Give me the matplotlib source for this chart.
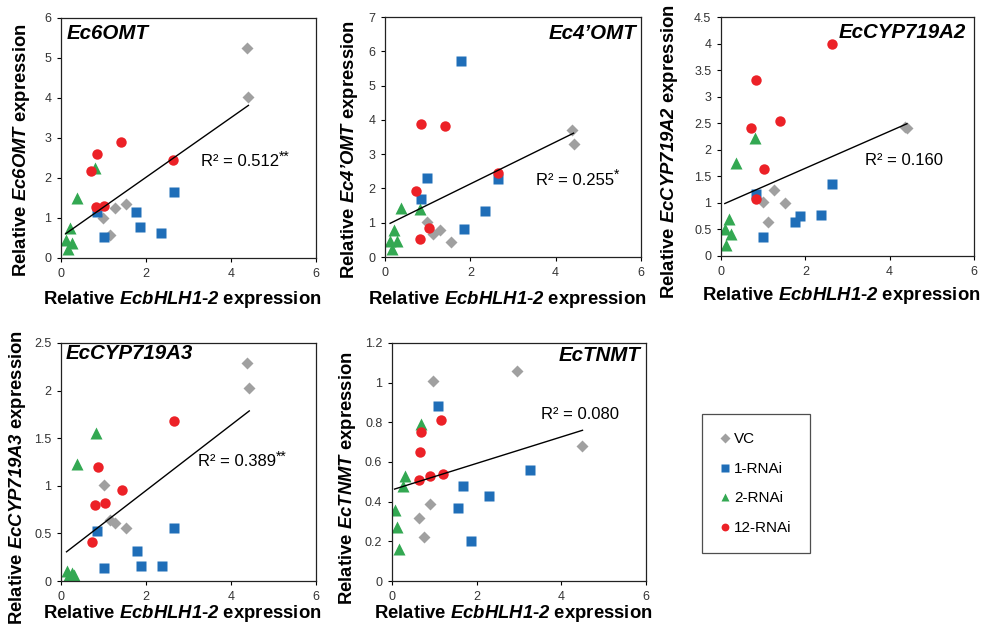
import numpy as np
import matplotlib.pyplot as plt
from matplotlib.ticker import FuncFormatter

plt.rcParams['font.family'] = ['Liberation Sans', 'DejaVu Sans']
plt.rcParams['mathtext.fontset'] = 'custom'
plt.rcParams['mathtext.rm'] = 'Liberation Sans:bold:italic'
plt.rcParams['mathtext.it'] = 'Liberation Sans:bold:italic'
plt.rcParams['mathtext.bf'] = 'Liberation Sans:bold:italic'

# data: x = relative EcbHLH1-2, y = relative gene expression
genes = ['Ec6OMT', 'Ec4’OMT', 'EcCYP719A2', 'EcCYP719A3', 'EcTNMT']
r2_labels = ['R² = 0.512', 'R² = 0.255', 'R² = 0.160', 'R² = 0.389', 'R² = 0.080']
r2_stars = ['**', '*', '', '**', '']
y_max = [6, 7, 4.5, 2.5, 1.2]
y_step = [1, 1, 0.5, 0.5, 0.2]

vc_x = [[4.37, 4.41, 0.99, 1.15, 1.27, 1.53],
        [4.38, 4.42, 0.99, 1.13, 1.28, 1.54],
        [4.37, 4.41, 0.99, 1.12, 1.26, 1.52],
        [4.37, 4.43, 1.01, 1.15, 1.27, 1.53],
        [0.98, 2.96, 4.50, 0.90, 0.63, 0.76]]
vc_y = [[5.26, 4.02, 1.01, 0.57, 1.26, 1.34],
        [3.69, 3.30, 1.02, 0.68, 0.78, 0.44],
        [2.43, 2.41, 1.02, 0.64, 1.24, 1.00],
        [2.29, 2.03, 1.01, 0.64, 0.61, 0.56],
        [1.01, 1.06, 0.68, 0.39, 0.32, 0.22]]

r1_x = [[0.84, 1.01, 1.76, 1.87, 2.35, 2.66],
        [1.78, 0.99, 0.84, 2.66, 2.35, 1.86],
        [0.82, 1.00, 1.76, 1.87, 2.36, 2.64],
        [0.84, 1.02, 1.78, 1.88, 2.37, 2.67],
        [1.08, 1.55, 1.67, 1.86, 2.28, 3.26]]
r1_y = [[1.14, 0.53, 1.15, 0.78, 0.63, 1.64],
        [5.73, 2.31, 1.70, 2.28, 1.34, 0.83],
        [1.16, 0.35, 0.64, 0.75, 0.78, 1.35],
        [0.53, 0.14, 0.32, 0.16, 0.16, 0.56],
        [0.88, 0.37, 0.48, 0.20, 0.43, 0.56]]

r2_x = [[0.81, 0.37, 0.20, 0.11, 0.16, 0.27],
        [0.37, 0.81, 0.20, 0.12, 0.27, 0.16],
        [0.80, 0.36, 0.19, 0.09, 0.24, 0.12],
        [0.82, 0.38, 0.13, 0.25, 0.17, 0.31],
        [0.68, 0.31, 0.26, 0.06, 0.12, 0.16]]
r2_y = [[2.24, 1.51, 0.76, 0.46, 0.23, 0.38],
        [1.44, 1.39, 0.80, 0.47, 0.47, 0.24],
        [2.23, 1.76, 0.70, 0.51, 0.42, 0.20],
        [1.55, 1.23, 0.11, 0.08, 0.04, 0.06],
        [0.79, 0.53, 0.48, 0.36, 0.27, 0.16]]

r12_x = [[0.70, 0.84, 1.40, 2.64, 0.82, 1.02],
         [0.84, 1.41, 0.73, 2.66, 1.02, 0.82],
         [0.82, 0.71, 1.40, 2.64, 1.02, 0.82],
         [0.86, 0.80, 1.04, 1.43, 2.66, 0.72],
         [0.68, 0.67, 0.63, 0.89, 1.20, 1.16]]
r12_y = [[2.18, 2.61, 2.91, 2.45, 1.27, 1.31],
         [3.89, 3.81, 1.92, 2.45, 0.86, 0.53],
         [3.31, 2.41, 2.54, 3.99, 1.63, 1.08],
         [1.20, 0.80, 0.82, 0.96, 1.68, 0.41],
         [0.75, 0.65, 0.51, 0.53, 0.54, 0.81]]

# layout (pixels of a 985x628 canvas)
W, H = 985, 628
boxes_px = [(61, 18, 316, 258), (385, 17, 641, 257), (721, 17, 974, 256),
            (61, 343, 316, 581), (392, 343, 646, 581)]
# y label centre: (pixels left of axis, pixel y of centre); x label centre: pixels below axis
ylab_px = [(-39, 150), (-35, 150), (-52, 152), (-43, 478), (-44, 478)]
xlab_px = [42, 43, 39, 32, 32]
title_pos = [(0.022, 0.937, 'left'), (0.982, 0.93, 'right'), (0.967, 0.934, 'right'),
             (0.018, 0.955, 'left'), (0.979, 0.948, 'right')]
r2_pos = [(0.548, 0.40), (0.59, 0.32), (0.568, 0.40), (0.537, 0.50), (0.585, 0.70)]

grey = '#a0a0a0'
blue = '#1f6eb8'
green = '#33a852'
red = '#ec2127'

fig = plt.figure(figsize=(9.85, 6.28), dpi=100)

handles = None
for i in range(5):
    l, t, r, b = boxes_px[i]
    aw, ah = r - l, b - t
    ax = fig.add_axes([l / W, 1 - b / H, aw / W, ah / H])

    h1, = ax.plot(vc_x[i], vc_y[i], 'D', color=grey, ms=6.5, mec='none', label='VC')
    h2, = ax.plot(r1_x[i], r1_y[i], 's', color=blue, ms=7.5, mec='none', label='1-RNAi')
    h3, = ax.plot(r2_x[i], r2_y[i], '^', color=green, ms=8.5, mec='none', label='2-RNAi')
    h4, = ax.plot(r12_x[i], r12_y[i], 'o', color=red, ms=7.5, mec='none', label='12-RNAi')
    if handles is None:
        handles = [h1, h2, h3, h4]

    allx = np.array(vc_x[i] + r1_x[i] + r2_x[i] + r12_x[i])
    ally = np.array(vc_y[i] + r1_y[i] + r2_y[i] + r12_y[i])
    k, c = np.polyfit(allx, ally, 1)
    xs = np.array([allx.min(), allx.max()])
    ax.plot(xs, k * xs + c, color='black', lw=1)

    ax.set_xlim(0, 6)
    ax.set_ylim(0, y_max[i])
    ax.set_xticks([0, 2, 4, 6])
    ax.set_yticks(np.arange(0, y_max[i] + 1e-9, y_step[i]))
    ax.yaxis.set_major_formatter(FuncFormatter(lambda v, p: '%g' % round(v, 2)))
    ax.tick_params(direction='out', length=3, width=0.8, labelsize=9,
                   labelcolor='#333333', pad=4)
    for s in ax.spines.values():
        s.set_linewidth(0.9)
        s.set_color('#222222')

    g = genes[i]
    ax.set_xlabel(r'Relative $\mathrm{EcbHLH1}$-$\mathrm{2}$ expression',
                  fontsize=13.3, fontweight='bold', va='center')
    ax.xaxis.set_label_coords(0.476, -xlab_px[i] / ah)
    ax.set_ylabel('Relative $\\mathrm{' + g + '}$ expression',
                  fontsize=13.3, fontweight='bold', va='center')
    yx, yy = ylab_px[i]
    ax.yaxis.set_label_coords(yx / aw, (b - yy) / ah)

    tx, ty, ha = title_pos[i]
    ax.text(tx, ty, g, transform=ax.transAxes, ha=ha, va='center',
            fontsize=14.8, fontweight='bold', fontstyle='italic')

    rx, ry = r2_pos[i]
    t_r2 = ax.text(rx, ry, r2_labels[i], transform=ax.transAxes, ha='left',
                   va='center', fontsize=12)
    if r2_stars[i]:
        ax.annotate(r2_stars[i], xy=(1.0, 0.85), xycoords=t_r2, ha='left',
                    va='center', fontsize=10)

leg = fig.legend(handles=handles, loc='upper left',
                 bbox_to_anchor=(702 / W, 1 - 414 / H), fontsize=11,
                 frameon=True, fancybox=False, edgecolor='#222222',
                 handlelength=0.6, handletextpad=0.3, labelspacing=1.02,
                 borderpad=1.2, borderaxespad=0, markerscale=0.75)
leg.get_frame().set_linewidth(0.9)

fig.savefig('out.png', dpi=100)
